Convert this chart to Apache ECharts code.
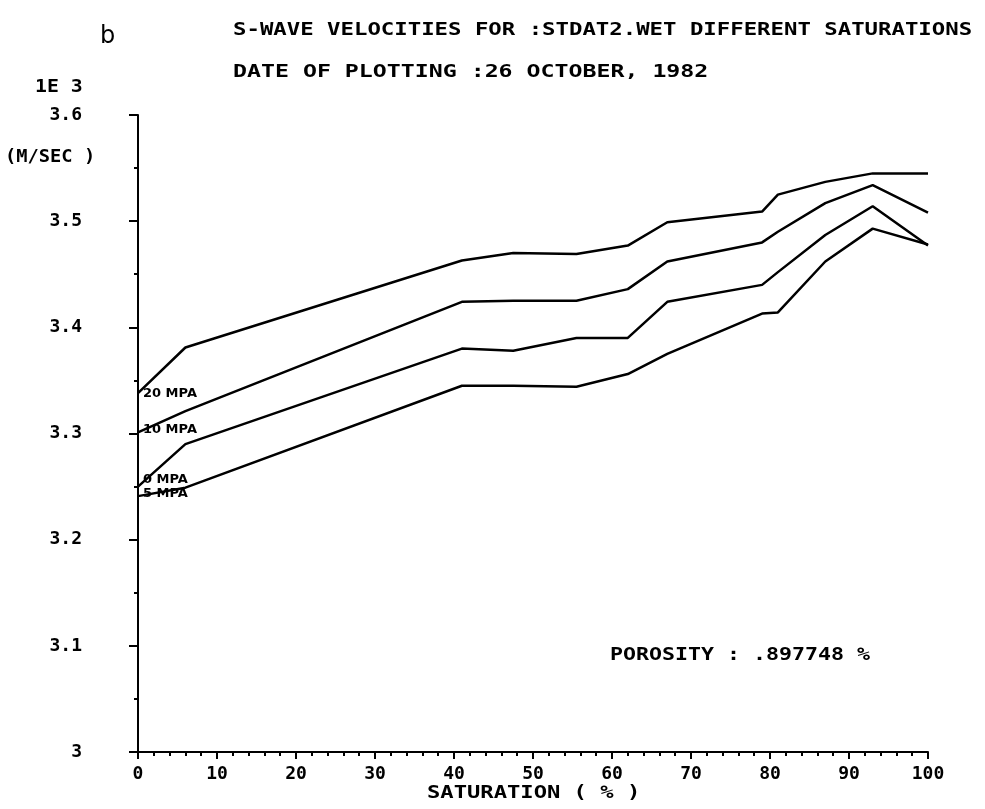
<!DOCTYPE html>
<html lang="en">
    <head>
        <meta charset="UTF-8" />
        <title>S-wave velocities</title>
        <style>
            * {
                box-sizing: border-box;
                margin: 0;
                padding: 0;
            }
            body {
                background: #fff;
            }
            .container {
                width: 985px;
                height: 809px;
            }
        </style>
    </head>
    <body>
        <div class="container" id="chart"></div>
        <script src="https://cdn.jsdelivr.net/npm/echarts@6/dist/echarts.min.js"></script>
        <script>
            // saturation (%) sample points
            var saturation = [0, 6, 41, 47.5, 55.5, 62, 67, 79, 81, 87, 93, 100]
            // velocities in 1E3 m/sec, one array per pressure
            var v20 = [3.338, 3.381, 3.463, 3.470, 3.469, 3.477, 3.499, 3.509, 3.525, 3.537, 3.545, 3.545]
            var v10 = [3.301, 3.321, 3.424, 3.425, 3.425, 3.436, 3.462, 3.480, 3.490, 3.517, 3.534, 3.508]
            var v0 = [3.250, 3.290, 3.380, 3.378, 3.390, 3.390, 3.424, 3.440, 3.452, 3.487, 3.514, 3.477]
            var v5 = [3.241, 3.249, 3.345, 3.345, 3.344, 3.356, 3.375, 3.413, 3.414, 3.462, 3.493, 3.478]
            var seriesNames = ['20 MPA', '10 MPA', '0 MPA', '5 MPA']
            var labelOffsets = [0, -3, -7, -3]

            var mono = '"DejaVu Sans Mono"'

            function makeSeries(name, values, dy) {
                return {
                    name: name,
                    type: 'line',
                    symbol: 'circle',
                    symbolSize: 0,
                    showSymbol: true,
                    animation: false,
                    lineStyle: { color: '#000', width: 2.5 },
                    itemStyle: { color: '#000' },
                    data: values.map(function (v, i) {
                        var item = { value: [saturation[i], v] }
                        // label at the start of each curve
                        if (i === 0) {
                            item.label = {
                                show: true,
                                position: 'right',
                                distance: 5,
                                offset: [0, dy],
                                formatter: name,
                                color: '#000',
                                fontFamily: '"DejaVu Sans"',
                                fontWeight: 'bold',
                                fontSize: 13
                            }
                        }
                        return item
                    })
                }
            }

            function txt(x, y, text, sx) {
                return {
                    type: 'text',
                    x: x,
                    y: y,
                    scaleX: sx,
                    style: {
                        text: text,
                        font: 'bold 18px ' + mono,
                        fill: '#000',
                        textAlign: 'left',
                        textVerticalAlign: 'middle'
                    }
                }
            }

            var chart = echarts.init(document.getElementById('chart'))
            chart.setOption({
                backgroundColor: '#fff',
                grid: { left: 138, right: 57, top: 115, bottom: 57 },
                xAxis: {
                    type: 'value',
                    min: 0,
                    max: 100,
                    interval: 10,
                    axisLine: { lineStyle: { color: '#000', width: 2 } },
                    axisTick: { length: 7, lineStyle: { color: '#000', width: 2 } },
                    minorTick: { show: true, splitNumber: 5, length: 4, lineStyle: { color: '#000', width: 2 } },
                    splitLine: { show: false },
                    axisLabel: {
                        margin: 13,
                        color: '#000',
                        fontFamily: mono,
                        fontWeight: 'bold',
                        fontSize: 18
                    }
                },
                yAxis: {
                    type: 'value',
                    min: 3,
                    max: 3.6,
                    interval: 0.1,
                    axisLine: { show: true, lineStyle: { color: '#000', width: 2 } },
                    axisTick: { show: true, length: 9, lineStyle: { color: '#000', width: 2 } },
                    minorTick: { show: true, splitNumber: 2, length: 4, lineStyle: { color: '#000', width: 2 } },
                    splitLine: { show: false },
                    axisLabel: {
                        margin: 56,
                        align: 'right',
                        color: '#000',
                        fontFamily: mono,
                        fontWeight: 'bold',
                        fontSize: 18,
                        formatter: function (v) {
                            return v === 3 ? '3' : v.toFixed(1)
                        }
                    }
                },
                series: [
                    makeSeries(seriesNames[0], v20, labelOffsets[0]),
                    makeSeries(seriesNames[1], v10, labelOffsets[1]),
                    makeSeries(seriesNames[2], v0, labelOffsets[2]),
                    makeSeries(seriesNames[3], v5, labelOffsets[3])
                ],
                graphic: [
                    {
                        type: 'text',
                        x: 100,
                        y: 37,
                        style: {
                            text: 'b',
                            font: '24px "DejaVu Sans"',
                            fill: '#000',
                            textVerticalAlign: 'middle'
                        }
                    },
                    txt(233, 30, 'S-WAVE VELOCITIES FOR :STDAT2.WET DIFFERENT SATURATIONS', 1.24),
                    txt(233, 72, 'DATE OF PLOTTING :26 OCTOBER, 1982', 1.29),
                    txt(35, 87, '1E 3', 1.1),
                    txt(5, 157, '(M/SEC )', 1.04),
                    txt(610, 655, 'POROSITY : .897748 %', 1.2),
                    txt(427, 793, 'SATURATION ( % )', 1.23)
                ]
            })
        </script>
    </body>
</html>
